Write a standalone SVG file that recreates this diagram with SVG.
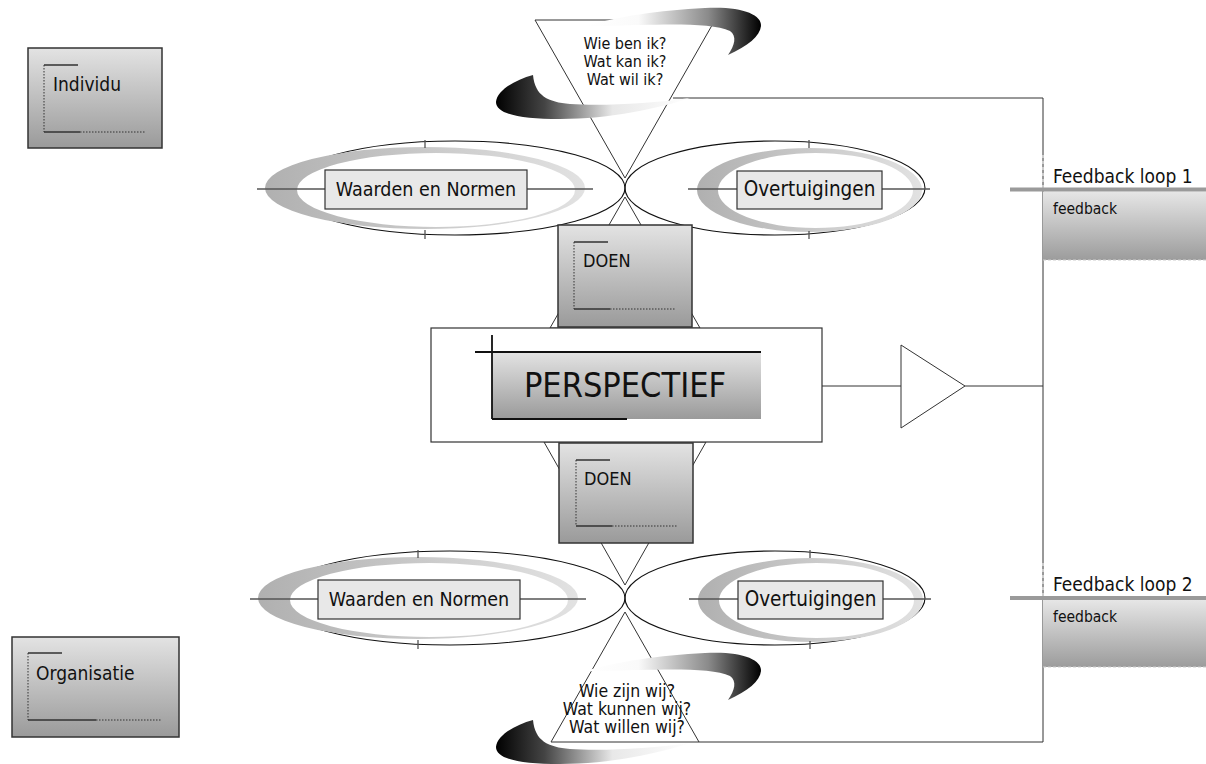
<svg xmlns="http://www.w3.org/2000/svg" width="1206" height="764" viewBox="0 0 1206 764">
<style>
.t{font-family:'DejaVu Sans Condensed','DejaVu Sans',sans-serif;font-stretch:condensed;fill:#111}
.ln{stroke:#333;stroke-width:1;fill:none}
.gbox{fill:url(#boxGrad);stroke:#333;stroke-width:1.5}
.lbl{fill:#e8e8e8;stroke:#333;stroke-width:1.2}
.ell{fill:none;stroke:#111;stroke-width:1.1}
.axis{stroke:#555;stroke-width:1.3}
.dot{stroke:#333;stroke-width:1;stroke-dasharray:1.5 1.5;fill:none}
.sol{stroke:#333;stroke-width:1.5;fill:none}
</style>
<defs>
<linearGradient id="boxGrad" x1="0" y1="0" x2="0" y2="1">
<stop offset="0" stop-color="#e3e3e3"/><stop offset="1" stop-color="#9a9a9a"/>
</linearGradient>
<linearGradient id="fbGrad" x1="0" y1="0" x2="0" y2="1">
<stop offset="0" stop-color="#e6e6e6"/><stop offset="1" stop-color="#9c9c9c"/>
</linearGradient>
<linearGradient id="cresGrad" x1="0" y1="0" x2="1" y2="0">
<stop offset="0" stop-color="#b0b0b0"/><stop offset="1" stop-color="#e2e2e2"/>
</linearGradient>
<linearGradient id="swR" x1="0" y1="0" x2="1" y2="0">
<stop offset="0" stop-color="#fff"/><stop offset="0.3" stop-color="#fafafa"/><stop offset="0.7" stop-color="#8a8a8a"/><stop offset="1" stop-color="#000"/>
</linearGradient>
<linearGradient id="swL" x1="0" y1="0" x2="1" y2="0">
<stop offset="0" stop-color="#000"/><stop offset="0.25" stop-color="#444"/><stop offset="0.6" stop-color="#e8e8e8"/><stop offset="1" stop-color="#fff"/>
</linearGradient>
<path id="swirlR" d="M586,26 C615,17 660,10 705,8 C740,6 762,14 761,26 C760,36 748,46 728,55 C735,45 737,36 730,31 C715,24 680,24 640,25 C620,25 600,27 586,26 Z" fill="url(#swR)"/>
<path id="swirlL" d="M533,75 C515,80 497,90 496,102 C496,114 520,119 560,119 C610,119 660,108 690,98 C650,104 600,106 570,104 C548,102 535,96 533,75 Z" fill="url(#swL)"/>
</defs>
<rect width="1206" height="764" fill="#fff"/>

<g id="connectors">
<path class="ln" d="M822,386 H901"/>
<path class="ln" d="M965,386 H1043"/>
<path class="ln" d="M673,98 H1043 V742 H699"/>
</g>

<g id="triangles">
<polygon class="ln" points="535,20 715,20 625,178"/>
<polygon class="ln" points="625,197 700,328 550,328"/>
<polygon class="ln" points="544,442 706,442 625,585"/>
<polygon class="ln" points="625,612 699,742 551,742"/>
</g>

<g id="swirls-top">
<use href="#swirlR"/>
<use href="#swirlL"/>
</g>
<g id="swirls-bottom" transform="translate(0,645)">
<use href="#swirlR"/>
<use href="#swirlL"/>
</g>

<g id="waarden-top">
<ellipse class="ell" cx="455" cy="188" rx="170" ry="47"/>
<path fill="url(#cresGrad)" fill-rule="evenodd" d="M265,188 A160,41 0 1,0 585,188 A160,41 0 1,0 265,188 Z M297,190 A139,37 0 1,0 575,190 A139,37 0 1,0 297,190 Z"/>
<path class="axis" d="M257,189 H593 M425,140 V148 M425,230 V239"/>
<rect class="lbl" x="325" y="170" width="202" height="39"/>
<text class="t" x="426" y="196" font-size="19.5" text-anchor="middle">Waarden en Normen</text>
</g>

<g id="overtuigingen-top">
<ellipse class="ell" cx="775" cy="188" rx="150" ry="47"/>
<path fill="url(#cresGrad)" fill-rule="evenodd" d="M697,190 A112.5,42 0 1,0 922,190 A112.5,42 0 1,0 697,190 Z M718,190.5 A97.5,37.5 0 1,0 913,190.5 A97.5,37.5 0 1,0 718,190.5 Z"/>
<path class="axis" d="M688,189 H930 M809,140 V148 M809,231 V239"/>
<rect class="lbl" x="737" y="171" width="145" height="38"/>
<text class="t" x="809.5" y="196" font-size="20.5" text-anchor="middle">Overtuigingen</text>
</g>

<g id="waarden-bottom" transform="translate(-7,410)">
<ellipse class="ell" cx="457" cy="188" rx="175" ry="47"/>
<path fill="url(#cresGrad)" fill-rule="evenodd" d="M265,188 A160,41 0 1,0 585,188 A160,41 0 1,0 265,188 Z M297,190 A139,37 0 1,0 575,190 A139,37 0 1,0 297,190 Z"/>
<path class="axis" d="M257,189 H593 M425,140 V148 M425,230 V239"/>
<rect class="lbl" x="325" y="170" width="202" height="39"/>
<text class="t" x="426" y="196" font-size="19.5" text-anchor="middle">Waarden en Normen</text>
</g>

<g id="overtuigingen-bottom" transform="translate(1,410)">
<ellipse class="ell" cx="774" cy="188" rx="150" ry="47"/>
<path fill="url(#cresGrad)" fill-rule="evenodd" d="M697,190 A112.5,42 0 1,0 922,190 A112.5,42 0 1,0 697,190 Z M718,190.5 A97.5,37.5 0 1,0 913,190.5 A97.5,37.5 0 1,0 718,190.5 Z"/>
<path class="axis" d="M688,189 H930 M809,140 V148 M809,231 V239"/>
<rect class="lbl" x="737" y="171" width="145" height="38"/>
<text class="t" x="809.5" y="196" font-size="20.5" text-anchor="middle">Overtuigingen</text>
</g>

<g id="perspectief">
<rect x="431" y="328" width="391" height="114" fill="#fff" stroke="#333" stroke-width="1.2"/>
<rect x="492" y="352" width="269" height="67" fill="url(#boxGrad)"/>
<path d="M475,352 H761 M492,335 V419 M492,419 H627" stroke="#111" stroke-width="1.8" fill="none"/>
<text class="t" x="625" y="397" font-size="34" text-anchor="middle">PERSPECTIEF</text>
</g>

<g id="doen-top">
<rect class="gbox" x="558" y="225" width="134" height="102"/>
<path class="sol" d="M608,242 H574 M574,309 H610"/>
<path class="dot" d="M574,242 V309 M610,309 H675"/>
<text class="t" x="583" y="267" font-size="18">DOEN</text>
</g>

<g id="doen-bottom">
<rect class="gbox" x="559" y="443" width="134" height="100"/>
<path class="sol" d="M610,460 H576 M576,526 H612"/>
<path class="dot" d="M576,460 V526 M612,526 H677"/>
<text class="t" x="584" y="485" font-size="18">DOEN</text>
</g>

<g id="amplifier">
<polygon points="901,345 965,386 901,428" fill="#fff" stroke="#333" stroke-width="1"/>
</g>

<g id="vragen-ik">
<text class="t" font-size="16" text-anchor="middle"><tspan x="625" y="49">Wie ben ik?</tspan><tspan x="625" y="67">Wat kan ik?</tspan><tspan x="625" y="85">Wat wil ik?</tspan></text>
</g>

<g id="vragen-wij">
<text class="t" font-size="17.5" text-anchor="middle"><tspan x="627" y="697">Wie zijn wij?</tspan><tspan x="627" y="715">Wat kunnen wij?</tspan><tspan x="627" y="733">Wat willen wij?</tspan></text>
</g>

<g id="individu">
<rect class="gbox" x="28" y="48" width="134" height="100"/>
<path class="sol" d="M78,65 H44 M44,132 H80"/>
<path class="dot" d="M44,65 V132 M80,132 H145"/>
<text class="t" x="53" y="91" font-size="19">Individu</text>
</g>

<g id="organisatie">
<rect class="gbox" x="12" y="637" width="167" height="100"/>
<path class="sol" d="M62,653 H28 M28,720 H96"/>
<path class="dot" d="M28,653 V720 M96,720 H162"/>
<text class="t" x="36" y="680" font-size="19">Organisatie</text>
</g>

<g id="feedback-1">
<rect x="1043" y="191.5" width="163" height="68.5" fill="url(#fbGrad)"/>
<path d="M1043,260 H1206" stroke="#ccc" stroke-dasharray="3 2"/>
<path d="M1043,155 V188" stroke="#fff" stroke-dasharray="3 3"/>
<rect x="1010" y="187.5" width="196" height="4" fill="#9a9a9a"/>
<text class="t" x="1053" y="183" font-size="19">Feedback loop 1</text>
<text class="t" x="1053" y="214" font-size="15.5">feedback</text>
</g>

<g id="feedback-2">
<rect x="1043" y="600" width="163" height="67" fill="url(#fbGrad)"/>
<path d="M1043,667 H1206" stroke="#ccc" stroke-dasharray="3 2"/>
<path d="M1043,563 V596" stroke="#fff" stroke-dasharray="3 3"/>
<rect x="1010" y="596" width="196" height="4" fill="#9a9a9a"/>
<text class="t" x="1053" y="591" font-size="19">Feedback loop 2</text>
<text class="t" x="1053" y="622" font-size="15.5">feedback</text>
</g>
</svg>
